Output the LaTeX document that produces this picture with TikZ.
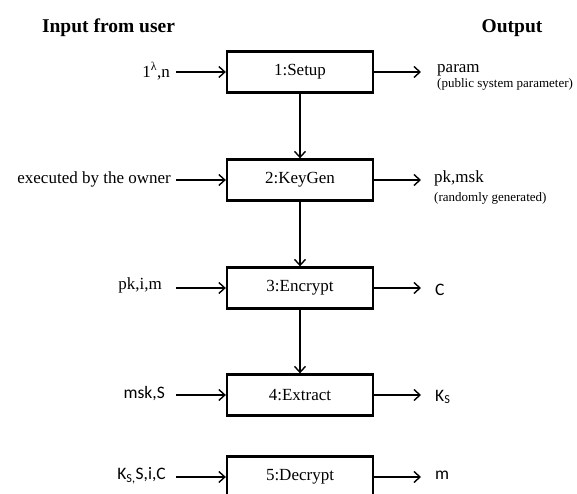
\documentclass[tikz,border=0pt]{standalone}
\usepackage{fontspec}
\setmainfont{Liberation Serif}
\newfontfamily\sansf{Carlito}
\usetikzlibrary{arrows.meta}
\begin{document}
\begin{tikzpicture}[x=1pt,y=1pt,
  stagebox/.style={draw, line width=2.3pt, minimum width=146pt, minimum height=41pt,
    inner sep=0pt, font=\fontsize{17}{20}\selectfont},
  flow/.style={line width=1.4pt, -{Straight Barb[length=6pt,width=11pt,line width=1.4pt]}},
  inlabel/.style={anchor=east, inner sep=0pt, font=\fontsize{17}{20}\selectfont},
  insans/.style={anchor=east, inner sep=0pt, font=\sansf\fontsize{17.5}{20}\selectfont},
  outlabel/.style={anchor=west, inner sep=0pt, font=\fontsize{17}{20}\selectfont},
  outsans/.style={anchor=west, inner sep=0pt, font=\sansf\fontsize{17.5}{20}\selectfont},
  outsub/.style={anchor=west, inner sep=0pt, font=\fontsize{13}{15}\selectfont},
  headtext/.style={inner sep=0pt, font=\bfseries\fontsize{19.5}{23}\selectfont}]
\useasboundingbox (0,0) rectangle (577,494);
\clip (0,0) rectangle (577,494);
\fill[white] (0,0) rectangle (577,494);

% headings
\node[headtext] (hin) at (108.5,466) {Input from user};
\node[headtext] (hout) at (512,466) {Output};

% boxes
\node[stagebox] (b1) at (300,422) {1:Setup};
\node[stagebox] (b2) at (300,314) {2:KeyGen};
\node[stagebox] (b3) at (300,206) {3:Encrypt};
\node[stagebox] (b4) at (300,99) {4:Extract};
\node[stagebox] (b5) at (300,17) {5:Decrypt};

% vertical flow
\draw[flow] (b1) -- (b2);
\draw[flow] (b2) -- (b3);
\draw[flow] (b3) -- (b4);

% inputs
\node[inlabel] (l1) at (170,423) {1\textsuperscript{λ},n};
\node[inlabel] (l2) at (171,315) {executed by the owner};
\node[inlabel] (l3) at (162,209) {pk,i,m};
\node[insans] (l4) at (165,100) {msk,S};
\node[insans] (l5) at (166,18) {K\textsubscript{S,}S,i,C};

\coordinate (a1) at (176,422);
\coordinate (a2) at (176,314);
\coordinate (a3) at (176,206);
\coordinate (a4) at (176,99);
\coordinate (a5) at (176,17);
\draw[flow] (a1) -- (b1.west);
\draw[flow] (a2) -- (b2.west);
\draw[flow] (a3) -- (b3.west);
\draw[flow] (a4) -- (b4.west);
\draw[flow] (a5) -- (b5.west);

% outputs
\coordinate (o1) at (421,422);
\coordinate (o2) at (421,314);
\coordinate (o3) at (421,206);
\coordinate (o4) at (421,99);
\coordinate (o5) at (421,17);
\draw[flow] (b1.east) -- (o1);
\draw[flow] (b2.east) -- (o2);
\draw[flow] (b3.east) -- (o3);
\draw[flow] (b4.east) -- (o4);
\draw[flow] (b5.east) -- (o5);

\node[outlabel] (r1) at (437,424) {param};
\node[outsub] (r1s) at (437,410) {(public system parameter)};
\node[outlabel] (r2) at (434,316) {pk,msk};
\node[outsub] (r2s) at (434,296) {(randomly generated)};
\node[outsans] (r3) at (435,204) {C};
\node[outsans] (r4) at (435,97) {K\textsubscript{S}};
\node[outsans] (r5) at (435,19) {m};
\end{tikzpicture}
\end{document}
